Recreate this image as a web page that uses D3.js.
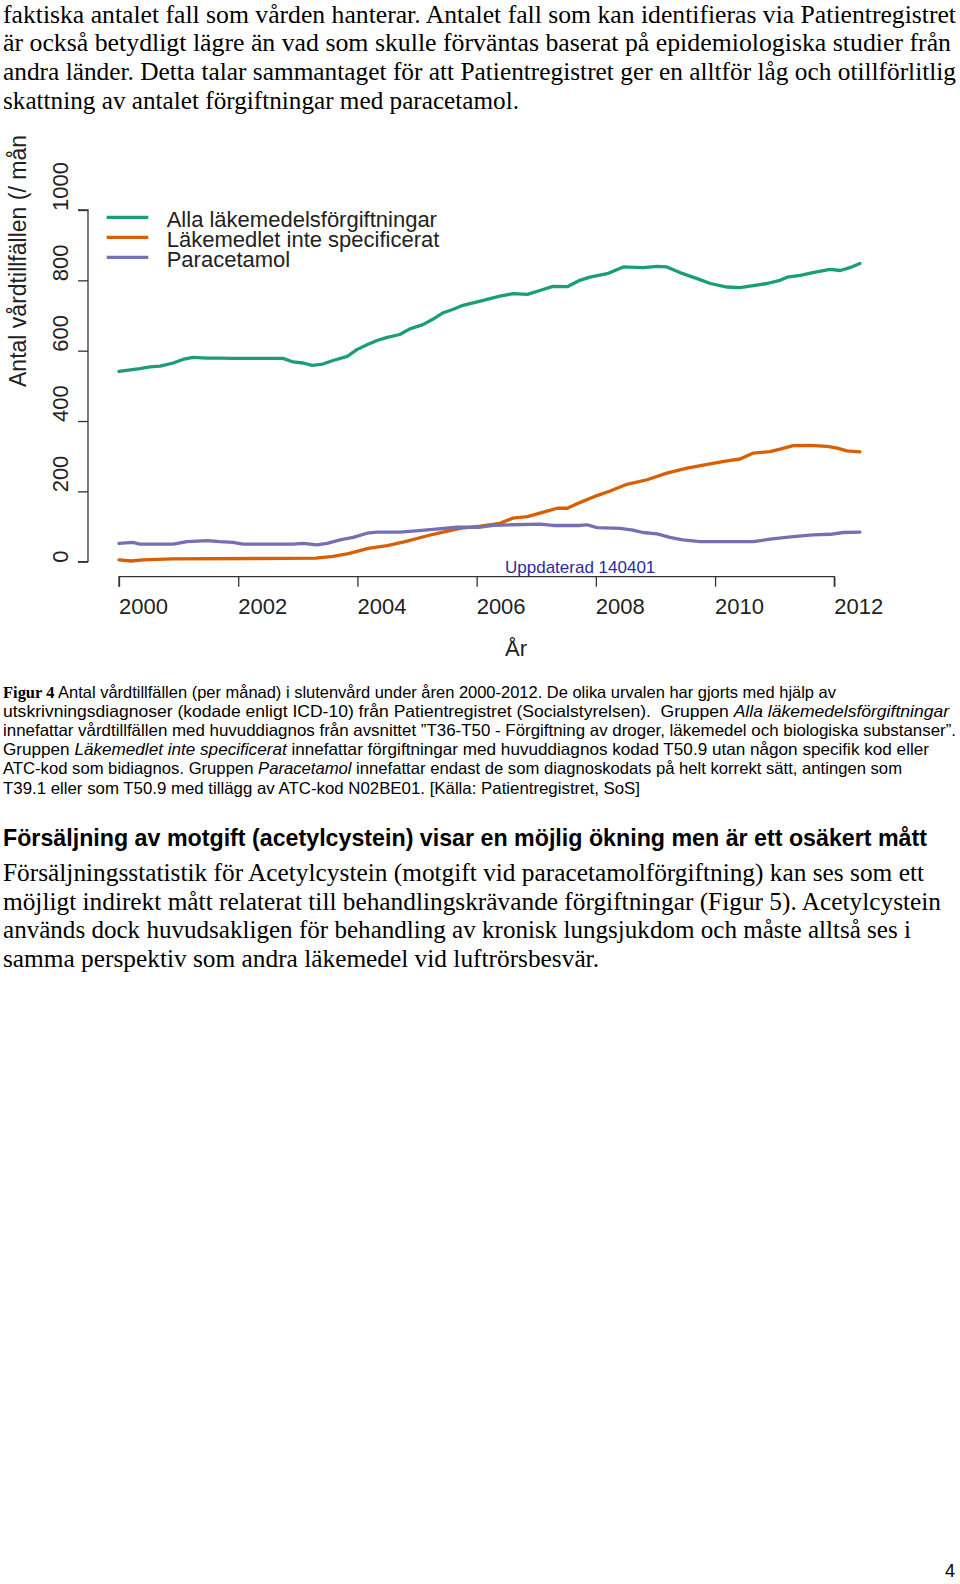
<!DOCTYPE html>
<html><head><meta charset="utf-8">
<script src="https://cdn.jsdelivr.net/npm/d3@7"></script>
<style>html,body{margin:0;padding:0;background:#fff;} svg{display:block;} text{white-space:pre;}</style>
</head><body>
<svg id="page" width="960" height="1584"></svg>
<script>
// ---------------- data ----------------
const seriesNames = ["Alla läkemedelsförgiftningar", "Läkemedlet inte specificerat", "Paracetamol"];
const seriesColors = ["#1b9e77", "#d95f02", "#7570b3"];
const yTicks = [0, 200, 400, 600, 800, 1000];
const xTicks = [2000, 2002, 2004, 2006, 2008, 2010, 2012];

const allaT = [2000.00,2000.35,2000.52,2000.69,2000.91,2001.07,2001.24,2001.48,2001.69,2001.91,2002.20,2002.42,2002.75,2002.92,2003.09,2003.24,2003.42,2003.59,2003.83,2003.99,2004.16,2004.33,2004.50,2004.71,2004.88,2005.10,2005.27,2005.44,2005.60,2005.77,2006.06,2006.39,2006.61,2006.85,2007.06,2007.28,2007.52,2007.73,2007.90,2008.19,2008.46,2008.79,2009.03,2009.19,2009.41,2009.70,2009.92,2010.20,2010.42,2010.64,2010.87,2011.09,2011.21,2011.43,2011.64,2011.93,2012.10,2012.26,2012.43];
const allaV = [541,549,554,556,565,575,581,579,579,578,578,578,578,568,565,558,562,572,584,603,617,629,638,646,662,674,690,708,717,729,741,755,762,760,771,783,782,800,809,819,838,836,840,838,822,805,791,781,779,785,791,800,809,814,822,831,828,836,848];

const ospecT = [2000.00,2000.20,2000.40,2000.90,2003.30,2003.59,2003.85,2004.18,2004.50,2004.80,2005.27,2005.72,2006.06,2006.39,2006.61,2006.85,2007.18,2007.35,2007.52,2007.73,2008.02,2008.24,2008.52,2008.86,2009.19,2009.53,2009.87,2010.20,2010.42,2010.64,2010.92,2011.09,2011.31,2011.59,2011.88,2012.05,2012.21,2012.43];
const ospecV = [5,2,5,8,10,15,23,38,46,57,78,95,101,109,124,128,144,152,152,168,188,201,220,233,252,266,277,287,292,309,313,320,330,331,328,323,315,312];

const paraT = [2000.00,2000.23,2000.35,2000.91,2001.14,2001.48,2001.69,2001.91,2002.08,2002.92,2003.09,2003.32,2003.49,2003.71,2003.93,2004.16,2004.33,2004.71,2004.93,2005.27,2005.67,2006.06,2006.28,2006.61,2007.06,2007.28,2007.73,2007.85,2008.02,2008.41,2008.62,2008.79,2009.03,2009.24,2009.46,2009.75,2010.64,2010.92,2011.31,2011.64,2011.93,2012.15,2012.43];
const paraV = [52,55,50,50,57,60,57,55,50,50,52,48,52,62,69,81,84,84,87,92,98,98,103,105,107,103,103,105,97,95,90,83,79,69,62,57,57,64,71,76,78,83,84];

const seriesT = [allaT, ospecT, paraT];
const seriesV = [allaV, ospecV, paraV];

// ---------------- texts ----------------
const para1 = [
  "faktiska antalet fall som vården hanterar. Antalet fall som kan identifieras via Patientregistret",
  "är också betydligt lägre än vad som skulle förväntas baserat på epidemiologiska studier från",
  "andra länder. Detta talar sammantaget för att Patientregistret ger en alltför låg och otillförlitlig",
  "skattning av antalet förgiftningar med paracetamol."
];
const para1Ends = [956, 951, 956, 519];

const caption = [
  [{t:"Figur 4", b:true, serif:true}, {t:" Antal vårdtillfällen (per månad) i slutenvård under åren 2000-2012. De olika urvalen har gjorts med hjälp av"}],
  [{t:"utskrivningsdiagnoser (kodade enligt ICD-10) från Patientregistret (Socialstyrelsen).  Gruppen "}, {t:"Alla läkemedelsförgiftningar", i:true}],
  [{t:"innefattar vårdtillfällen med huvuddiagnos från avsnittet ”T36-T50 - Förgiftning av droger, läkemedel och biologiska substanser”."}],
  [{t:"Gruppen "}, {t:"Läkemedlet inte specificerat", i:true}, {t:" innefattar förgiftningar med huvuddiagnos kodad T50.9 utan någon specifik kod eller"}],
  [{t:"ATC-kod som bidiagnos. Gruppen "}, {t:"Paracetamol", i:true}, {t:" innefattar endast de som diagnoskodats på helt korrekt sätt, antingen som"}],
  [{t:"T39.1 eller som T50.9 med tillägg av ATC-kod N02BE01. [Källa: Patientregistret, SoS]"}]
];
const captionEnds = [836, 949, 956, 929, 902, 640];

const heading = "Försäljning av motgift (acetylcystein) visar en möjlig ökning men är ett osäkert mått";
const para2 = [
  "Försäljningsstatistik för Acetylcystein (motgift vid paracetamolförgiftning) kan ses som ett",
  "möjligt indirekt mått relaterat till behandlingskrävande förgiftningar (Figur 5). Acetylcystein",
  "används dock huvudsakligen för behandling av kronisk lungsjukdom och måste alltså ses i",
  "samma perspektiv som andra läkemedel vid luftrörsbesvär."
];
const para2Ends = [924, 941, 911, 599];

// ---------------- drawing ----------------
const SANS = "'Liberation Sans', Arial, Helvetica, sans-serif";
const SERIF = "'Liberation Serif', 'Times New Roman', serif";
const svg = d3.select("#page");
svg.append("rect").attr("width", 960).attr("height", 1584).attr("fill", "#fff");

function drawLines(lines, ends, x0, y0, lh, family, size, color) {
  lines.forEach((ln, i) => {
    const t = svg.append("text")
      .attr("x", x0).attr("y", y0 + i * lh)
      .attr("font-family", family).attr("font-size", size)
      .attr("fill", color || "#000");
    const parts = typeof ln === "string" ? [{t: ln}] : ln;
    parts.forEach(p => {
      const ts = t.append("tspan").text(p.t);
      if (p.b) ts.attr("font-weight", "bold");
      if (p.i) ts.attr("font-style", "italic");
      if (p.serif) ts.attr("font-family", SERIF);
    });
    if (ends && ends[i]) t.attr("textLength", ends[i] - x0).attr("lengthAdjust", "spacingAndGlyphs");
  });
}

drawLines(para1, para1Ends, 3, 22.7, 28.6, SERIF, 24.5);
drawLines(caption, captionEnds, 3, 697.5, 19.2, SANS, 16.5);
svg.append("text").attr("x", 3).attr("y", 846)
  .attr("font-family", SANS).attr("font-weight", "bold").attr("font-size", 24)
  .attr("textLength", 924).attr("lengthAdjust", "spacingAndGlyphs").text(heading);
drawLines(para2, para2Ends, 3, 881, 28.5, SERIF, 24.5);
svg.append("text").attr("x", 945).attr("y", 1577).attr("font-family", SANS).attr("font-size", 18).text("4");

// chart
const x = d3.scaleLinear().domain([2000, 2012]).range([119, 834.3]);
const y = d3.scaleLinear().domain([0, 1000]).range([561.7, 210]);
const axisColor = "#333";
const g = svg.append("g");

// y axis
const yAxis = g.append("g").attr("transform", "translate(88,0)")
  .call(d3.axisLeft(y).tickValues(yTicks).tickSize(10).tickFormat(""));
yAxis.selectAll("path,line").attr("stroke", axisColor).attr("stroke-width", 1.3);
yAxis.select(".domain").attr("d", `M-10,${y(0)}H0V${y(1000)}H-10`);
g.selectAll(".ylab").data(yTicks).join("text")
  .attr("transform", d => `translate(68,${y(d) + 1}) rotate(-90)`)
  .attr("font-family", SANS).attr("font-size", 22).attr("fill", "#222")
  .text(d => d);

// x axis
const xAxis = g.append("g").attr("transform", "translate(0,576.7)")
  .call(d3.axisBottom(x).tickValues(xTicks).tickSize(10).tickFormat(""));
xAxis.selectAll("path,line").attr("stroke", axisColor).attr("stroke-width", 1.3);
xAxis.select(".domain").attr("d", `M${x(2000)},10V0H${x(2012)}V10`);
g.selectAll(".xlab").data(xTicks).join("text")
  .attr("x", d => x(d)).attr("y", 614)
  .attr("font-family", SANS).attr("font-size", 22).attr("fill", "#222")
  .text(d => d);

// axis titles
g.append("text").attr("transform", "translate(26,387) rotate(-90)")
  .attr("font-family", SANS).attr("font-size", 23).attr("fill", "#222")
  .attr("textLength", 252).attr("lengthAdjust", "spacingAndGlyphs")
  .text("Antal vårdtillfällen (/ mån");
g.append("text").attr("x", 505).attr("y", 656)
  .attr("font-family", SANS).attr("font-size", 22).attr("fill", "#222").text("År");

g.append("text").attr("x", 505).attr("y", 573.3)
  .attr("font-family", SANS).attr("font-size", 17).attr("fill", "#2b2ba0")
  .text("Uppdaterad 140401");

// series lines
const line = d3.line().x(d => x(d[0])).y(d => y(d[1]));
seriesNames.forEach((name, k) => {
  const pts = seriesT[k].map((t, i) => [t, seriesV[k][i]]);
  g.append("path").attr("d", line(pts)).attr("fill", "none")
    .attr("stroke", seriesColors[k]).attr("stroke-width", 3.3)
    .attr("stroke-linejoin", "round").attr("stroke-linecap", "round");
});

// legend
seriesNames.forEach((name, k) => {
  const ly = 217.3 + k * 20;
  g.append("line").attr("x1", 106.7).attr("x2", 148.3).attr("y1", ly).attr("y2", ly)
    .attr("stroke", seriesColors[k]).attr("stroke-width", 3.3);
  g.append("text").attr("x", 166.7).attr("y", ly + 9.4)
    .attr("font-family", SANS).attr("font-size", 22).attr("fill", "#222").text(name);
});
</script>
</body></html>
